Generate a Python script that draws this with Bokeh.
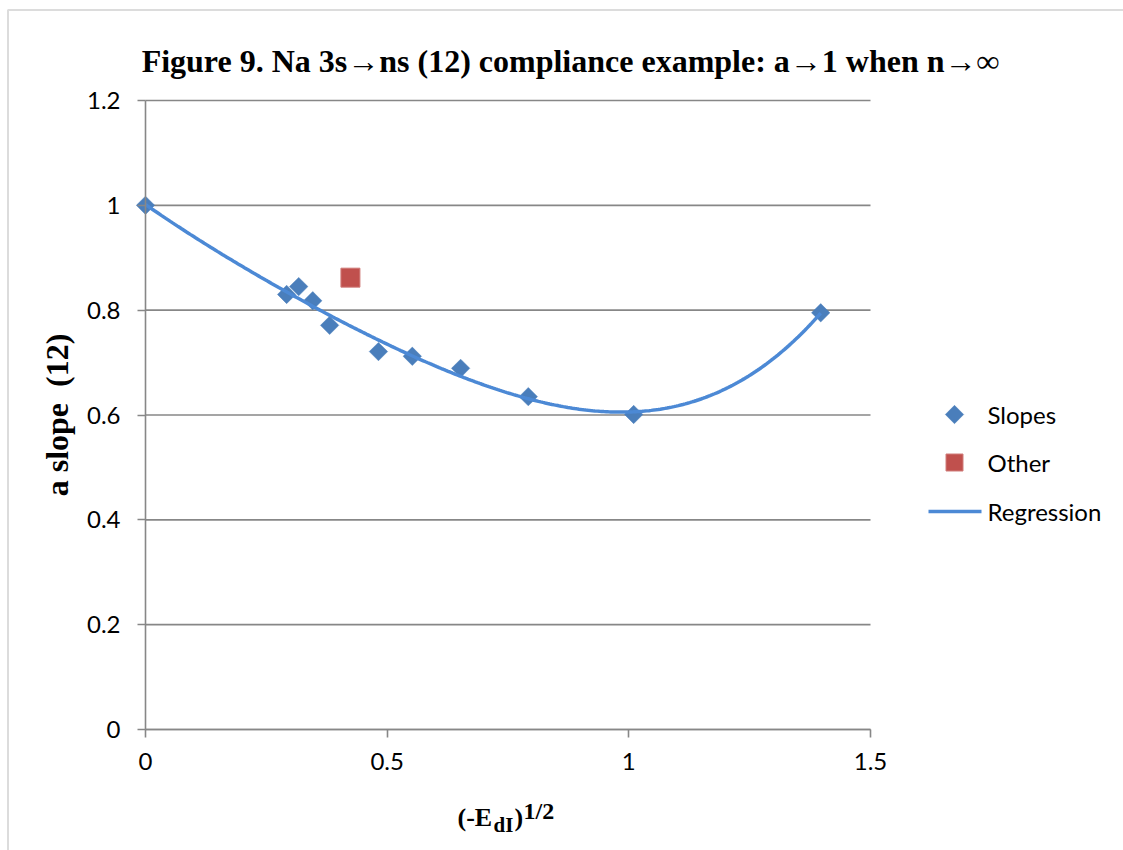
import numpy as np
from bokeh.plotting import figure
from bokeh.models import Label, BoxAnnotation, FixedTicker
from bokeh.embed import file_html
from bokeh.resources import INLINE

# ---- data ----
slope_x = [0.0, 0.292, 0.317, 0.346, 0.381, 0.482, 0.552, 0.652, 0.792, 1.010, 1.397]
slope_y = [1.0, 0.830, 0.845, 0.818, 0.771, 0.721, 0.712, 0.689, 0.635, 0.601, 0.795]
other_x = [0.424]
other_y = [0.862]
x_ticks = [0, 0.5, 1, 1.5]
x_tick_labels = ["0", "0.5", "1", "1.5"]
y_ticks = [0, 0.2, 0.4, 0.6, 0.8, 1.0, 1.2]
y_tick_labels = ["0", "0.2", "0.4", "0.6", "0.8", "1", "1.2"]
title_text = "Figure 9. Na 3s\u2192ns (12) compliance example: a\u21921 when n\u2192\u221e"
y_label = "a slope\u00a0 (12)"
series_names = ["Slopes", "Other", "Regression"]

GRID = "#878787"
BLUE = "#4A7EBB"
LINEBLUE = "#4C89D5"
RED = "#C0504D"
SERIF = "Liberation Serif"
SANS = "Lato"

# ---- layout geometry (pixels) ----
W, H = 1123, 850
PL, PR, PT, PB = 145, 870, 100, 729          # plot-area edges on the canvas
XMIN, XMAX, YMIN, YMAX = 0, 1.5, 0, 1.2
sx = (PR - PL) / (XMAX - XMIN)
sy = (PB - PT) / (YMAX - YMIN)
x_range = (XMIN - PL / sx, XMAX + (W - PR) / sx)
y_range = (YMIN - (H - PB) / sy, YMAX + PT / sy)


def px2x(px):
    return XMIN + (px - PL) / sx


def py2y(py):
    return YMIN + (PB - py) / sy


p = figure(width=W, height=H, x_range=x_range, y_range=y_range,
           output_backend="svg", toolbar_location=None,
           min_border=0, min_border_left=0, min_border_right=0,
           min_border_top=0, min_border_bottom=0)
p.outline_line_color = None
p.background_fill_color = "white"
p.border_fill_color = "white"
p.xgrid.visible = False
p.ygrid.visible = False

# horizontal gridlines across the plot area
p.segment(x0=[XMIN] * len(y_ticks), x1=[XMAX] * len(y_ticks), y0=y_ticks, y1=y_ticks,
          line_color=GRID, line_width=1.6)

for ax, ticks, labels, bnd in ((p.xaxis[0], x_ticks, x_tick_labels, (XMIN, XMAX)),
                               (p.yaxis[0], y_ticks, y_tick_labels, (YMIN, YMAX))):
    ax.fixed_location = 0
    ax.bounds = bnd
    ax.ticker = FixedTicker(ticks=ticks)
    ax.major_label_overrides = {t: l for t, l in zip(ticks, labels)}
    ax.axis_line_color = GRID
    ax.axis_line_width = 1.6
    ax.major_tick_line_color = GRID
    ax.major_tick_line_width = 1.6
    ax.major_tick_out = 8
    ax.major_tick_in = 0
    ax.minor_tick_out = 0
    ax.minor_tick_in = 0
    ax.major_label_text_font = SANS
    ax.major_label_text_font_size = "24px"
    ax.major_label_text_color = "black"

p.xaxis.major_label_standoff = 15
p.yaxis.major_label_standoff = 17

p.yaxis.axis_label = y_label
p.yaxis.axis_label_text_font = SERIF
p.yaxis.axis_label_text_font_style = "bold"
p.yaxis.axis_label_text_font_size = "32px"
p.yaxis.axis_label_text_color = "black"
p.yaxis.axis_label_standoff = 9

p.scatter(slope_x, slope_y, marker="square", size=13, angle=np.pi / 4,
          fill_color=BLUE, line_color=BLUE, line_width=0.5)
p.scatter(other_x, other_y, marker="square", size=19,
          fill_color=RED, line_color="#D07C7A", line_width=1)

# polynomial trendline fitted to the Slopes series
xs = np.array(slope_x)
ys = np.array(slope_y)
xx = np.linspace(xs.min(), xs.max(), 300)
coef = np.polyfit(xs, ys, 4)
p.line(xx, np.polyval(coef, xx), line_color=LINEBLUE, line_width=3.5)

# ---- legend (keys drawn to match the reference's diamond / square / line) ----
LEG_KEY_X, LEG_TXT_X = 954, 987
LEG_ROWS = [414, 462, 511]
p.scatter([px2x(LEG_KEY_X)], [py2y(LEG_ROWS[0])], marker="square", size=13, angle=np.pi / 4,
          fill_color=BLUE, line_color=BLUE, line_width=0.5)
p.scatter([px2x(LEG_KEY_X)], [py2y(LEG_ROWS[1])], marker="square", size=17,
          fill_color=RED, line_color="#D07C7A", line_width=1)
p.line([px2x(LEG_KEY_X - 26), px2x(LEG_KEY_X + 27)], [py2y(LEG_ROWS[2])] * 2,
       line_color=LINEBLUE, line_width=3.5)
for name, row in zip(series_names, LEG_ROWS):
    p.add_layout(Label(x=px2x(LEG_TXT_X), y=py2y(row), text=name, text_align="left",
                       text_baseline="middle", text_font=SANS, text_font_size="24px",
                       text_color="black"))

# chart title
p.add_layout(Label(x=px2x(570), y=py2y(60), text=title_text,
                   text_align="center", text_baseline="alphabetic", text_font=SERIF,
                   text_font_style="bold", text_font_size="32px", text_color="black"))

# x-axis title: (-E_dI)^1/2
xb, yb = px2x(457), py2y(817)
parts = [("(-E", 0, 0, "26px"), ("dI", 36, -7, "21px"), (")", 57, 0, "26px"), ("1/2", 66, 7, "24px")]
for txt, dx, dy, fs in parts:
    p.add_layout(Label(x=xb, y=yb, x_offset=dx, y_offset=dy, text=txt, text_align="left",
                       text_baseline="alphabetic", text_font=SERIF, text_font_style="bold",
                       text_font_size=fs, text_color="black"))

# outer chart border
p.add_layout(BoxAnnotation(left=7.5, right=3000, top=9.5, bottom=3000,
                           left_units="canvas", right_units="canvas",
                           top_units="canvas", bottom_units="canvas",
                           fill_alpha=0, line_color="#8C8C8C", line_width=2))

open("out.html", "w").write(file_html(p, INLINE))
